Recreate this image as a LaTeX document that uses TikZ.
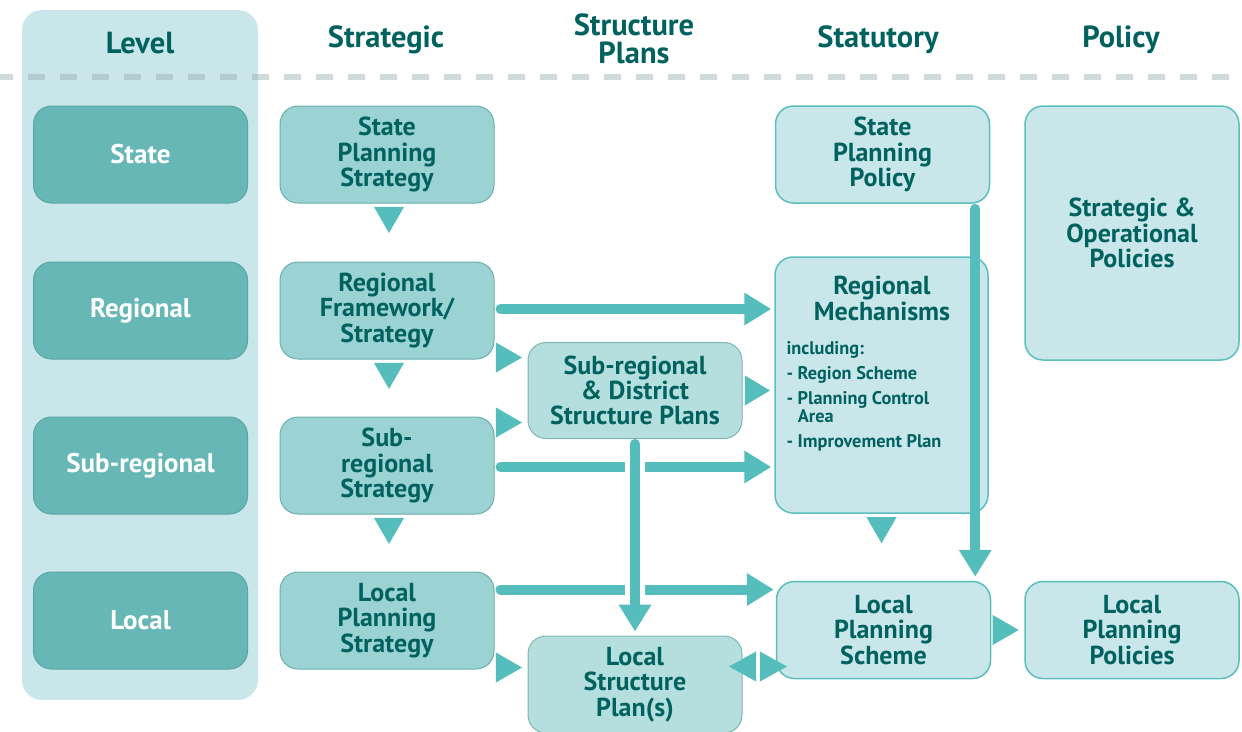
\documentclass[tikz,border=0pt]{standalone}
\usepackage{fontspec}
\setmainfont{PT Sans}
\usetikzlibrary{arrows.meta,shapes.geometric,calc,positioning}

\definecolor{headc}{HTML}{00625F}
\definecolor{levelbg}{HTML}{C9E6EB}
\definecolor{levelc}{HTML}{66B7B6}
\definecolor{levelline}{HTML}{5AA6A5}
\definecolor{stratc}{HTML}{9BD3D4}
\definecolor{stratline}{HTML}{6DAEAD}
\definecolor{planc}{HTML}{B5DFDF}
\definecolor{planline}{HTML}{7DB5B4}
\definecolor{statc}{HTML}{C9E6EB}
\definecolor{statline}{HTML}{5CBEBD}
\definecolor{arrowc}{HTML}{55BDBC}
\definecolor{dashc}{HTML}{9DB5B8}

\newcommand\headfnt{\fontsize{30.5}{28}\selectfont\bfseries}
\newcommand\boxfnt{\fontsize{26}{25.3}\selectfont\bfseries}
\newcommand\levelfnt{\fontsize{27}{28}\selectfont\bfseries}
\newcommand\smallfnt{\fontsize{18.3}{18}\selectfont\bfseries}

\begin{document}
\begin{tikzpicture}[x=1pt, y=-1pt,
  box/.style={rounded corners=18pt, minimum width=214pt, minimum height=97pt, align=center, text=headc, font=\boxfnt, line width=1pt},
  level/.style={box, fill=levelc, draw=levelline, text=white, font=\levelfnt},
  strat/.style={box, fill=stratc, draw=stratline},
  plan/.style={box, fill=planc, draw=planline},
  stat/.style={box, fill=statc, draw=statline, line width=1.5pt},
  head/.style={font=\headfnt, text=headc, align=center},
  tri/.style={isosceles triangle, isosceles triangle stretches, fill=arrowc, inner sep=0pt, minimum height=26pt, minimum width=30pt, anchor=apex},
  link/.style={draw=arrowc, line width=10pt, line cap=round, -{Triangle[length=27pt,width=31pt]}},
  gap/.style={draw=white, line width=20pt}]

\useasboundingbox (0,0) rectangle (1242,731);

% level column and header rule
\fill[levelbg, rounded corners=20pt] (22,10) rectangle (258,700);
\draw[dashc, opacity=0.5, line width=6pt, dash pattern=on 17pt off 15pt, dash phase=4pt] (0,77) -- (1242,77);

\node[head] (hlevel) at (140,43) {Level};
\node[head] (hstrat) at (386,40) {Strategic};
\node[head] (hplan) at (634,39) {Structure\\Plans};
\node[head] (hstat) at (878,40) {Statutory};
\node[head] (hpol) at (1121,40) {Policy};

\foreach \name/\txt/\y in {lstate/State/154.5, lreg/Regional/310.5, lsub/Sub-regional/465.5, lloc/Local/620.5} {
  \node[level] (\name) at (140.5,\y) {\txt};
}

% strategic column
\node[strat] (sps) at (387,154.5) {State\\Planning\\Strategy};
\node[strat] (rfs) at (387,310.5) {Regional\\Framework/\\Strategy};
\node[strat] (srs) at (387,465.5) {Sub-\\regional\\Strategy};
\node[strat] (lps) at (387,620.5) {Local\\Planning\\Strategy};

% structure plans
\node[plan, minimum height=96pt] (srd) at (635,390.5) {Sub-regional\\\& District\\Structure Plans};
\node[plan] (lsp) at (635,684.5) {Local\\Structure\\Plan(s)};

% statutory and policy
\node[stat] (spp) at (882.5,154.5) {State\\Planning\\Policy};
\node[stat, minimum width=213pt, minimum height=256pt] (rm) at (881.5,385) {};
\node[text=headc, font=\boxfnt, align=center] (rmtitle) at (882,298.5) {Regional\\Mechanisms};
\node[text=headc, font=\smallfnt, align=left, anchor=north west] (rmlist) at (783,338) {including:\\[7pt]- Region Scheme\\[7pt]- Planning Control\\\phantom{- }Area\\[7pt]- Improvement Plan};
\node[stat] (lpsch) at (883.5,630) {Local\\Planning\\Scheme};
\node[stat, minimum height=254pt] (sop) at (1132,233) {Strategic \&\\Operational\\Policies};
\node[stat] (lpp) at (1132,630) {Local\\Planning\\Policies};

% long arrows
\draw[link] ($(rfs.east)+(6,-1.5)$) -- ($(rfs.east -| rm.west)+(-3,-1.5)$);
\draw[link] ($(srs.east)+(6,1.5)$) -- ($(srs.east -| rm.west)+(-3,1.5)$);
\coordinate (lpsout) at ($(lps.east)+(6,-31)$);
\draw[link] (lpsout) -- ($(lpsout -| lpsch.west)+(-2,0)$);
\draw[gap] ($(srd.south)+(0,14)$) -- ($(lsp.north)+(0,-36)$);
\draw[link] ($(srd.south)+(0,5)$) -- ($(lsp.north)+(0,-4)$);
\coordinate (sppout) at ($(spp.south east)+(-15,5)$);
\draw[link] (sppout) -- ($(sppout |- lpsch.north)+(0,-4)$);

% small arrow heads
\foreach \n in {sps,rfs,srs} {
  \node[tri, shape border rotate=-90] at ($(\n.south)+(2,30)$) {};
}
\node[tri] (t1) at ($(srd.west)+(-5,-33)$) {};
\node[tri] (t2) at ($(srd.west)+(-5,32)$) {};
\node[tri, minimum height=25pt] (t3) at ($(srd.east)+(28,0)$) {};
\node[tri] (t4) at ($(lsp.west)+(-5,-17)$) {};
\node[tri, shape border rotate=-90] (t5) at ($(rm.south)+(0,30)$) {};
\node[tri] (t6) at ($(lpp.west)+(-5,0)$) {};
\coordinate (dbl) at ($(lsp.east)+(15,-18)$);
\node[tri, shape border rotate=180, minimum height=27pt] (t7) at ($(dbl)+(-29,0)$) {};
\node[tri, minimum height=27pt] (t8) at ($(dbl)+(30,0)$) {};

\end{tikzpicture}
\end{document}
